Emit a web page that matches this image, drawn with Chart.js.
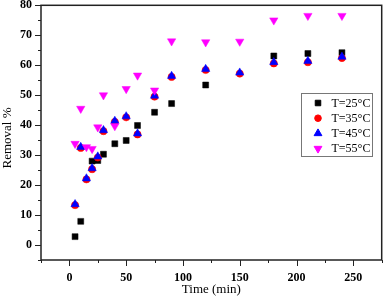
<!DOCTYPE html>
<html>
<head>
<meta charset="utf-8">
<script src="https://cdn.jsdelivr.net/npm/chart.js@4/dist/chart.umd.min.js"></script>
<style>
  html, body { margin: 0; padding: 0; background: #fff; }
  #wrap { width: 387px; height: 304px; }
</style>
</head>
<body>
<div id="wrap"><canvas id="kinetica"></canvas></div>
<script>
// tiempos de muestreo (min)
const times = [5, 10, 15, 20, 25, 30, 40, 50, 60, 75, 90, 120, 150, 180, 210, 240];
// remocion % por temperatura
const t25 = [2.8, 7.9, null, 28.0, 28.2, 30.3, 33.8, 34.9, 39.9, 44.3, 47.2, 53.4, null, 63.1, 63.9, 64.2];
const t35 = [13.3, 32.4, 21.9, 25.3, 29.2, 38.0, 41.1, 42.6, 36.9, 49.5, 56.1, 58.4, 57.2, 60.6, 61.0, 62.4];
const t45 = [13.6, 32.7, 22.2, 25.6, 29.5, 38.3, 41.4, 42.9, 37.2, 49.8, 56.4, 58.7, 57.5, 61.0, 61.4, 62.8];
const t55 = [33.8, 45.5, 32.7, 32.1, 39.3, 50.0, 39.7, 52.1, 56.6, 51.6, 68.0, 67.7, 67.9, 75.0, 76.5, 76.5];
const seriesLabels = ['T=25°C', 'T=35°C', 'T=45°C', 'T=55°C'];
const xTicks = [0, 50, 100, 150, 200, 250];
const yTicks = [0, 10, 20, 30, 40, 50, 60, 70, 80];

const serif = '"Liberation Serif", "Times New Roman", serif';

function toPoints(vals) {
  const out = [];
  vals.forEach((v, i) => { if (v !== null) out.push({ x: times[i], y: v }); });
  return out;
}

const estilos = [
  { color: '#000000', style: 'rect', radius: 4.2, rotation: 0 },
  { color: '#ff0000', style: 'circle', radius: 3.6, rotation: 0 },
  { color: '#0000ff', style: 'triangle', radius: 4.8, rotation: 0 },
  { color: '#ff00ff', style: 'triangle', radius: 4.8, rotation: 180 }
];
const valores = [t25, t35, t45, t55];

// order: el ultimo (magenta) queda encima
const datasets = valores.map((vals, i) => ({
  label: seriesLabels[i],
  data: toPoints(vals),
  order: 4 - i,
  showLine: false,
  pointStyle: estilos[i].style,
  pointRadius: estilos[i].radius,
  pointRotation: estilos[i].rotation,
  pointBackgroundColor: estilos[i].color,
  pointBorderColor: estilos[i].color,
  pointBorderWidth: 0.5
}));

// marco, marcas de ejes, titulos y leyenda
const extras = {
  id: 'extras',
  afterDraw(chart) {
    const ctx = chart.ctx;
    const a = chart.chartArea;
    const xs = chart.scales.x, ys = chart.scales.y;
    ctx.save();
    ctx.strokeStyle = '#222';
    ctx.lineWidth = 1.5;
    ctx.strokeRect(a.left, a.top, a.right - a.left, a.bottom - a.top);

    ctx.lineWidth = 1;
    ctx.beginPath();
    for (let v = -25; v <= 275; v += 25) {
      const px = Math.round(xs.getPixelForValue(v)) + 0.5;
      const len = (v % 50 === 0) ? 6 : 3;
      ctx.moveTo(px, a.bottom);
      ctx.lineTo(px, a.bottom + len);
    }
    for (let v = -5; v <= 80; v += 5) {
      const py = Math.round(ys.getPixelForValue(v)) + 0.5;
      const len = (v % 10 === 0) ? 6 : 3;
      ctx.moveTo(a.left, py);
      ctx.lineTo(a.left - len, py);
    }
    ctx.stroke();

    // titulos de ejes
    ctx.fillStyle = '#000';
    ctx.font = '13px ' + serif;
    ctx.textAlign = 'center';
    ctx.textBaseline = 'middle';
    ctx.fillText('Time (min)', (a.left + a.right) / 2, 290);
    ctx.save();
    ctx.translate(8, 138);
    ctx.rotate(-Math.PI / 2);
    ctx.fillText('Removal %', 0, 0);
    ctx.restore();

    // leyenda
    ctx.strokeStyle = '#777';
    ctx.lineWidth = 1;
    ctx.strokeRect(301.5, 93.5, 71, 63);
    ctx.font = '12px ' + serif;
    ctx.textAlign = 'left';
    seriesLabels.forEach((lab, i) => {
      const y = 103 + i * 15.2;
      const e = estilos[i];
      ctx.fillStyle = e.color;
      ctx.strokeStyle = e.color;
      Chart.helpers.drawPoint(ctx, { pointStyle: e.style, radius: e.radius - 0.3, rotation: e.rotation, borderWidth: 0.5 }, 318, y);
      ctx.fillStyle = '#000';
      ctx.fillText(lab, 331.5, y + 0.5);
    });
    ctx.restore();
  }
};

const config = {
  type: 'scatter',
  data: { datasets: datasets },
  options: {
    responsive: true,
    maintainAspectRatio: false,
    animation: false,
    layout: { padding: { top: 0, right: 3, left: 0, bottom: 0 } },
    plugins: {
      legend: { display: false },
      tooltip: { enabled: false }
    },
    scales: {
      x: {
        type: 'linear',
        min: -25,
        max: 275,
        grid: { display: false, drawTicks: false },
        border: { display: false },
        ticks: {
          stepSize: 25,
          autoSkip: false,
          maxRotation: 0,
          padding: 11,
          color: '#000',
          font: { family: serif, size: 12, weight: 'bold' },
          callback: v => xTicks.includes(v) ? v : ''
        },
        afterFit: s => { s.height = 44; s.paddingLeft = 0; s.paddingRight = 0; }
      },
      y: {
        type: 'linear',
        min: -5,
        max: 80,
        grid: { display: false, drawTicks: false },
        border: { display: false },
        ticks: {
          stepSize: 5,
          autoSkip: false,
          padding: 9,
          color: '#000',
          font: { family: serif, size: 12, weight: 'bold' },
          callback: v => yTicks.includes(v) ? v : ''
        },
        afterFit: s => { s.width = 41; s.paddingTop = 5; s.paddingBottom = 0; }
      }
    }
  },
  plugins: [extras]
};

let grafico = new Chart(document.getElementById('kinetica'), config);
</script>
</body>
</html>
